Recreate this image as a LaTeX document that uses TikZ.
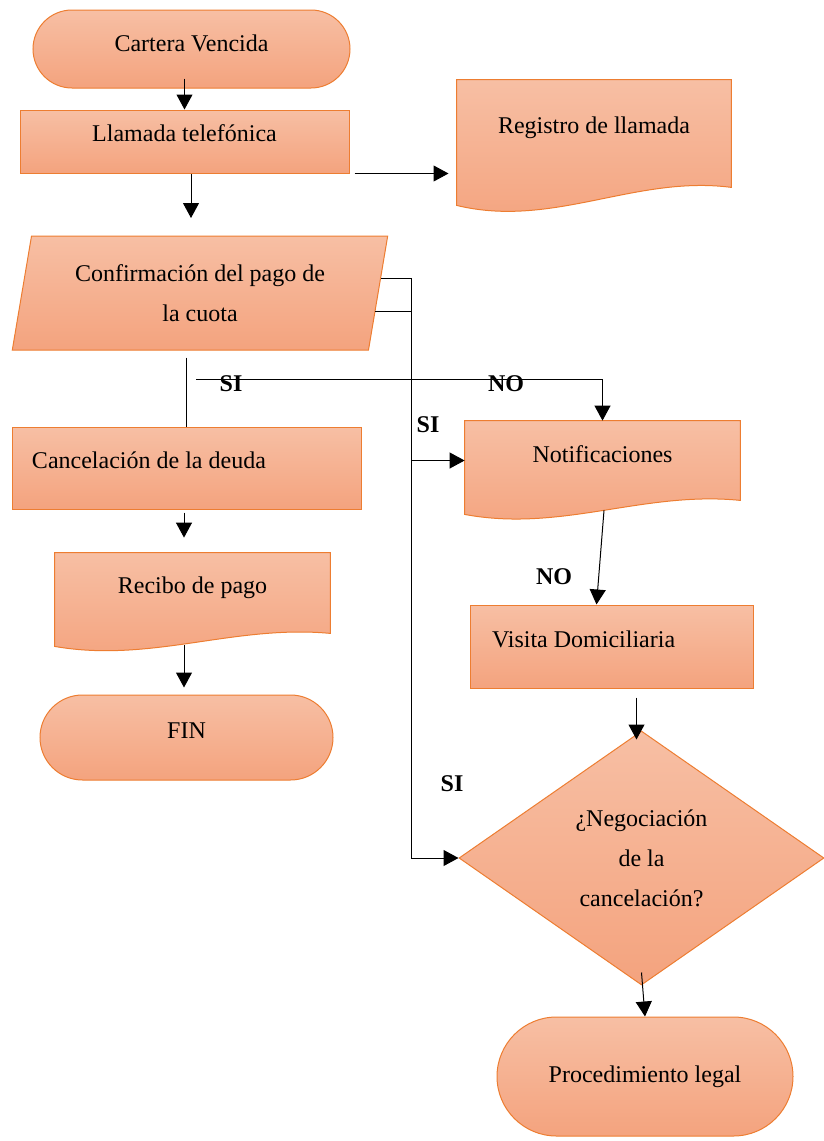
\documentclass[tikz,border=0pt]{standalone}
\usepackage{fontspec}
\setmainfont{Liberation Serif}
\usetikzlibrary{shapes.geometric,shapes.misc,arrows.meta,calc,backgrounds}

\definecolor{boxline}{HTML}{ED7D31}
\definecolor{boxtop}{HTML}{F7BFA4}
\definecolor{boxbot}{HTML}{F4A37E}

\tikzset{
  boxfill/.style={draw=boxline, line width=0.5pt, top color=boxtop, bottom color=boxbot},
  txt/.style={font=\fontsize{12}{20}\selectfont, align=center},
  terminal/.style={boxfill, txt, rounded rectangle, inner sep=0pt},
  procbox/.style={boxfill, txt, rectangle, inner sep=0pt},
  docbox/.style={txt, rectangle, inner sep=0pt},
  iobox/.style={boxfill, txt, trapezium, trapezium left angle=76, trapezium right angle=104,
    trapezium stretches=true, inner sep=0pt},
  decision/.style={boxfill, txt, diamond, aspect=1.44, inner sep=0pt},
  arrow/.style={-{Triangle[length=7.5pt,width=8pt]}, line width=0.5pt},
  wire/.style={line width=0.5pt},
  answer/.style={font=\fontsize{12}{14}\selectfont\bfseries}
}

% outline of a document box, #2 = depth of the wave
\newcommand{\docwave}[2]{%
  \path[boxfill] (#1.north west) -- (#1.north east) -- (#1.south east)
    .. controls ($(#1.south east)!0.35!(#1.south west)+(0,-0.7*#2)$)
       and ($(#1.south west)!0.35!(#1.south east)+(0,2.3*#2)$)
    .. ($(#1.south west)+(0,#2)$) -- cycle;}

\begin{document}
\begin{tikzpicture}[x=0.5pt,y=-0.5pt]
  \useasboundingbox (0,0) rectangle (824,1141);

  % left column
  \node[terminal, minimum width=158.5pt, minimum height=39pt, text depth=5.5pt] (cartera) at (191.5,49) {Cartera Vencida};
  \node[procbox, minimum width=164.5pt, minimum height=31.5pt, text depth=8.5pt] (llamada) at (184.5,141.5) {Llamada telef\'onica};
  \node[docbox, minimum width=137pt, minimum height=53.5pt, text depth=8pt] (registro) at (594,133.5) {Registro de llamada};
  \node[iobox, minimum width=188pt, minimum height=57pt] (conf) at (200,293) {Confirmaci\'on del pago de\\la cuota};
  \node[procbox, minimum width=174.5pt, minimum height=41pt, text width=154.5pt, align=flush left, text depth=7.5pt] (cancel) at (186.5,468) {Cancelaci\'on de la deuda};
  \node[docbox, minimum width=137.5pt, minimum height=40pt, text depth=7.5pt] (recibo) at (192.5,593) {Recibo de pago};
  \node[terminal, minimum width=146.5pt, minimum height=42.5pt, text depth=7pt] (fin) at (186.5,737.5) {FIN};

  % right column
  \node[docbox, minimum width=137.5pt, minimum height=39.5pt, text depth=6pt] (notif) at (602.5,460.5) {Notificaciones};
  \node[procbox, minimum width=141.5pt, minimum height=41.5pt, text width=119.5pt, align=flush left, text depth=7pt] (visita) at (611.5,646.5) {Visita Domiciliaria};
  \node[decision, minimum width=182.5pt, minimum height=127pt] (negoc) at (641.5,858) {¿Negociaci\'on\\de la\\cancelaci\'on?};
  \node[terminal, minimum width=148pt, minimum height=59.5pt] (legal) at (645,1076.5) {Procedimiento legal};

  \begin{scope}[on background layer]
    \docwave{registro}{18}
    \docwave{recibo}{13}
    \docwave{notif}{14}
  \end{scope}

  % connectors
  \coordinate (llamada-end) at (191,218);
  \coordinate (si-start) at (196,379);
  \draw[arrow] ($(cartera.south -| llamada.north)+(0,-10)$) -- (llamada.north);
  \draw[arrow] (llamada.south -| llamada-end) -- (llamada-end);
  \draw[arrow] ($(llamada.south east)+(5,0)$) -- ++(94,0);
  \draw[arrow] ($(conf.top right corner)!0.37!(conf.bottom right corner)$) -- ++(30,0) |- (notif.west);
  \draw[arrow] ($(conf.top right corner)!0.66!(conf.bottom right corner)$) -- ++(36,0) |- (negoc.west);
  \draw[wire] ($(cancel.north |- conf.south)+(0,7)$) -- (cancel.north);
  \draw[arrow] (si-start) -| (notif.north);
  \draw[arrow, shorten >=7.5pt] ($(cancel.south)+(-2.5,3)$) -- ($(cancel.south |- recibo.north)+(-2.5,0)$);
  \draw[arrow, shorten >=3.5pt] ($(recibo.south -| fin.north)+(-2.5,12)$) -- ($(fin.north)+(-2.5,0)$);
  \draw[arrow] ($(notif.south)+(1.5,10)$) -- ($(visita.north)+(-15,0)$);
  \draw[arrow] ($(visita.south -| negoc.north)+(-5,9)$) -- ($(negoc.north)+(-5,9)$);
  \draw[arrow] ($(negoc.south)+(0,-13)$) -- (legal.north);

  % answers
  \node[answer] (si1) at (231,384) {SI};
  \node[answer] (no1) at (506,384) {NO};
  \node[answer] (si2) at (428,425) {SI};
  \node[answer] (no2) at (554,577) {NO};
  \node[answer] (si3) at (452,784) {SI};
\end{tikzpicture}
\end{document}
